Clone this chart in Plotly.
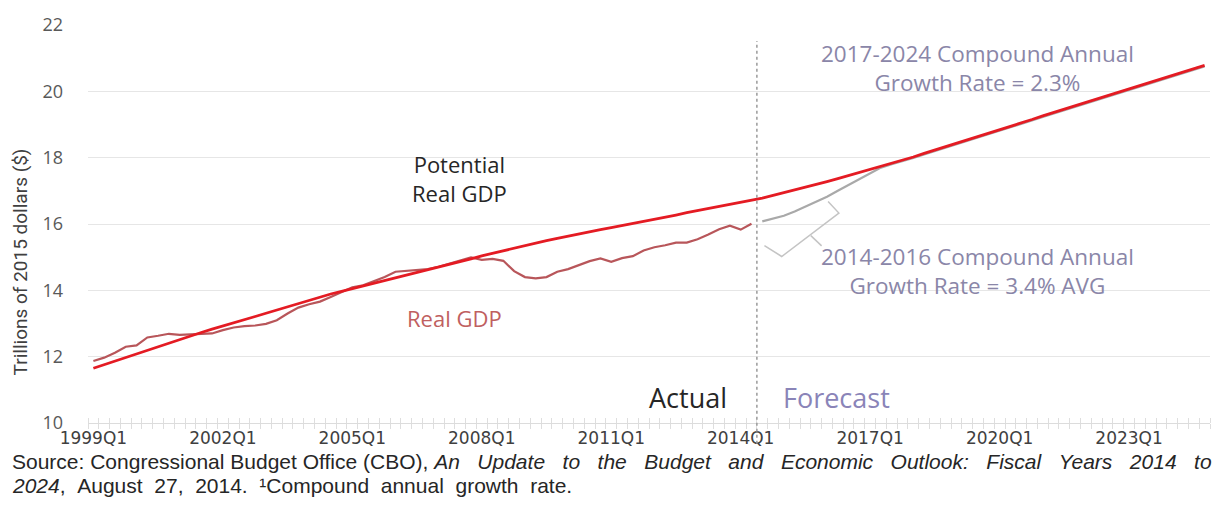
import plotly.graph_objects as go

# Quarterly categories 1999Q1 .. 2024Q4
quarters = [f"{y}Q{q}" for y in range(1999, 2025) for q in range(1, 5)]
tick_labels = ["1999Q1", "2002Q1", "2005Q1", "2008Q1", "2011Q1",
               "2014Q1", "2017Q1", "2020Q1", "2023Q1"]

# Potential real GDP, trillions, 1999Q1-2024Q4
potential_gdp = [
    11.65, 11.76, 11.87, 11.97, 12.08, 12.19, 12.30, 12.41,
    12.51, 12.62, 12.73, 12.83, 12.92, 13.02, 13.12, 13.21,
    13.31, 13.41, 13.50, 13.60, 13.70, 13.79, 13.89, 13.97,
    14.05, 14.13, 14.22, 14.30, 14.38, 14.46, 14.54, 14.63,
    14.71, 14.79, 14.87, 14.95, 15.04, 15.12, 15.20, 15.28,
    15.36, 15.43, 15.50, 15.57, 15.64, 15.70, 15.77, 15.83,
    15.89, 15.95, 16.02, 16.09, 16.15, 16.21, 16.27, 16.34,
    16.40, 16.46, 16.52, 16.58, 16.65, 16.71, 16.78, 16.86,
    16.94, 17.02, 17.11, 17.19, 17.28, 17.37, 17.46, 17.55,
    17.64, 17.73, 17.83, 17.92, 18.02, 18.13, 18.23, 18.33,
    18.44, 18.54, 18.64, 18.75, 18.85, 18.95, 19.05, 19.15,
    19.26, 19.36, 19.46, 19.56, 19.66, 19.76, 19.87, 19.97,
    20.07, 20.17, 20.27, 20.37, 20.48, 20.58, 20.68, 20.78,
]

# Actual real GDP, 1999Q1-2014Q2
real_gdp = [
    11.87, 11.97, 12.12, 12.30, 12.34, 12.58, 12.63, 12.69,
    12.66, 12.67, 12.68, 12.70, 12.80, 12.88, 12.92, 12.94,
    12.99, 13.10, 13.30, 13.48, 13.58, 13.66, 13.80, 13.95,
    14.09, 14.15, 14.27, 14.40, 14.56, 14.58, 14.60, 14.64,
    14.71, 14.80, 14.88, 14.99, 14.92, 14.95, 14.89, 14.58,
    14.40, 14.36, 14.40, 14.56, 14.64, 14.77, 14.88, 14.96,
    14.86, 14.97, 15.03, 15.20, 15.30, 15.36, 15.44, 15.44,
    15.54, 15.68, 15.84, 15.95, 15.83, 16.01,
]

# CBO projected real GDP, 2014Q3-2024Q4
forecast_gdp = [
    16.08, 16.16, 16.25, 16.38, 16.52, 16.66, 16.82, 17.00,
    17.18, 17.36, 17.52, 17.70, 17.80, 17.89, 17.99, 18.10,
    18.20, 18.30, 18.41, 18.51, 18.61, 18.72, 18.82, 18.92,
    19.02, 19.12, 19.23, 19.33, 19.43, 19.53, 19.63, 19.73,
    19.84, 19.94, 20.04, 20.14, 20.24, 20.34, 20.45, 20.55,
    20.65, 20.75,
]

x_all = list(range(len(quarters)))
x_real = x_all[:len(real_gdp)]
x_fc = x_all[len(real_gdp):len(real_gdp) + len(forecast_gdp)]
tick_pos = [quarters.index(t) for t in tick_labels]

RED = "#e41b23"
REAL = "#b8565a"
GRAY = "#a9a9a9"
NOTE = "#8a86a8"
TICK = "#dedede"

fig = go.Figure()
fig.add_trace(go.Scatter(x=x_fc, y=forecast_gdp, mode="lines",
                         line=dict(color=GRAY, width=2.2), hoverinfo="skip"))
fig.add_trace(go.Scatter(x=x_real, y=real_gdp, mode="lines",
                         line=dict(color=REAL, width=2.2), hoverinfo="skip"))
fig.add_trace(go.Scatter(x=x_all, y=potential_gdp, mode="lines",
                         line=dict(color=RED, width=2.8), hoverinfo="skip"))
# invisible trace carrying the secondary (tick-mark) axis
fig.add_trace(go.Scatter(x=[x_all[0]], y=[10], mode="lines", xaxis="x2",
                         line=dict(width=0), hoverinfo="skip"))

split = len(real_gdp) - 0.5

fig.update_layout(
    width=1225, height=513,
    margin=dict(l=88, r=15, t=19, b=90),
    paper_bgcolor="white", plot_bgcolor="white",
    showlegend=False,
    xaxis=dict(
        range=[-0.5, len(quarters) - 0.5],
        tickmode="array", tickvals=tick_pos, ticktext=tick_labels,
        ticks="", showgrid=False, zeroline=False,
        showline=True, linecolor="#dcdcdc", linewidth=1,
        tickfont=dict(family="DejaVu Sans", size=17, color="#404040"),
        minor=dict(ticks="outside", dtick=1, tick0=0.5, ticklen=5,
                   tickcolor=TICK, tickwidth=1, showgrid=False),
    ),
    xaxis2=dict(
        overlaying="x", matches="x", side="bottom", anchor="y",
        showticklabels=False, ticks="", showgrid=False, zeroline=False,
        minor=dict(ticks="inside", dtick=1, tick0=0.5, ticklen=5,
                   tickcolor=TICK, tickwidth=1, showgrid=False),
    ),
    yaxis=dict(
        range=[10, 22], dtick=2, tick0=10,
        showgrid=True, gridcolor="#e6e6e6", gridwidth=1,
        zeroline=False, showline=False, ticks="",
        tickfont=dict(family="Open Sans", size=18, color="#595959"),
        ticklabelstandoff=24,
    ),
)

# Actual / Forecast divider
fig.add_shape(type="line", xref="x", yref="paper",
              x0=split, x1=split, y0=-0.052, y1=0.96,
              line=dict(color="#9a9a9a", width=1.5, dash="dot"))

# bracket over the 2014-2016 segment of the projection
fig.add_shape(type="path", xref="x", yref="y",
              path="M 62.2 15.35 L 63.8 15.02 L 69.1 16.33 L 68.1 16.68",
              line=dict(color="#c4c4c4", width=1.5))
fig.add_shape(type="line", xref="x", yref="y",
              x0=66.5, y0=15.65, x1=67.5, y1=15.34,
              line=dict(color="#c4c4c4", width=1.5))

def px_x(px):
    return (px - 88) / 1122

def px_y(py):
    return (423 - py) / 404

def note(text, x, y, size, color, family="Open Sans", anchor="center",
         angle=0, align="center"):
    fig.add_annotation(text=text, xref="paper", yref="paper",
                       x=px_x(x), y=px_y(y), xanchor=anchor, yanchor="middle",
                       showarrow=False, textangle=angle, align=align,
                       font=dict(family=family, size=size, color=color))

note("Potential<br>Real GDP", 459, 175, 22, "#262626")
note("Real GDP", 454, 316, 22, "#c0605f")
note("2017-2024 Compound Annual<br>Growth Rate = 2.3%", 977, 63, 22.5, NOTE)
note("2014-2016 Compound Annual<br>Growth Rate = 3.4% AVG", 977, 269, 22.5, NOTE)
note("Actual", 688, 397, 27, "#262626")
note("Forecast", 836, 397, 27, "#8a84b8")
note("Trillions of 2015 dollars ($)", 20, 260, 19, "#404040",
     family="Liberation Sans Narrow, Roboto", angle=-90)

# justified source line: widened word gaps
gap = " &nbsp;&nbsp;"
line1 = ("Source: Congressional Budget Office (CBO), <i>"
         + gap.join("An Update to the Budget and Economic Outlook: "
                    "Fiscal Years 2014 to".split(" ")) + "</i>")
line2 = " &nbsp;".join("<i>2024</i>, August 27, 2014. ¹Compound annual growth rate.".split(" "))
note(line1, 10, 462, 21, "#262626", family="Liberation Sans, Arial",
     anchor="left", align="left")
note(line2, 10, 486, 21, "#262626", family="Liberation Sans, Arial",
     anchor="left", align="left")

fig.write_html("out.html")
